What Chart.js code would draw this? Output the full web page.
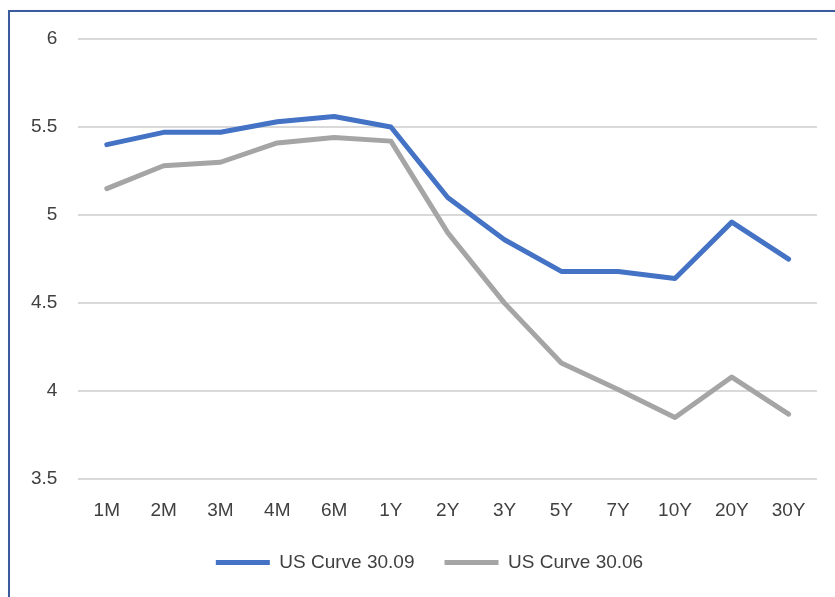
<!DOCTYPE html>
<html>
<head>
<meta charset="utf-8">
<script src="https://cdn.jsdelivr.net/npm/chart.js@4/dist/chart.umd.min.js"></script>
<style>
  html, body { margin: 0; padding: 0; background: #ffffff; overflow: hidden; }
  #frame { position: absolute; left: 8px; top: 10px; width: 900px; height: 700px;
           border: 2px solid #3A5C9C; box-shadow: 1px 1px 2px #c8c8c8; }
  #wrap { position: absolute; left: 0; top: 0; width: 835px; height: 597px; }
</style>
</head>
<body>
<div id="frame"></div>
<div id="wrap"><canvas id="c" width="835" height="597"></canvas></div>
<script>
const categories = ["1M","2M","3M","4M","6M","1Y","2Y","3Y","5Y","7Y","10Y","20Y","30Y"];
const curveSep = [5.40, 5.47, 5.47, 5.53, 5.56, 5.50, 5.10, 4.86, 4.68, 4.68, 4.64, 4.96, 4.75];
const curveJun = [5.15, 5.28, 5.30, 5.41, 5.44, 5.42, 4.90, 4.50, 4.16, 4.01, 3.85, 4.08, 3.87];
const seriesNames = ["US Curve 30.09", "US Curve 30.06"];
const yTicks = [3.5, 4, 4.5, 5, 5.5, 6];

const FONT = "'Liberation Sans', Arial, sans-serif";
const TEXT = "#404040";

const legendShift = {
  id: 'legendShift',
  afterLayout(chart) {
    const lg = chart.legend;
    if (!lg) return;
    lg.top -= 19; lg.bottom -= 19;
    lg.left += 16; lg.right += 16;
  }
};

new Chart(document.getElementById('c'), {
  type: 'line',
  data: {
    labels: categories,
    datasets: [
      { label: seriesNames[0], data: curveSep, borderColor: '#4472C4', backgroundColor: '#4472C4',
        borderWidth: 5, pointRadius: 0, borderCapStyle: 'round', borderJoinStyle: 'round', tension: 0 },
      { label: seriesNames[1], data: curveJun, borderColor: '#A5A5A5', backgroundColor: '#A5A5A5',
        borderWidth: 5, pointRadius: 0, borderCapStyle: 'round', borderJoinStyle: 'round', tension: 0 }
    ]
  },
  plugins: [legendShift],
  options: {
    responsive: false,
    animation: false,
    layout: { padding: { left: 10, right: 18, top: 39, bottom: 0 } },
    plugins: {
      tooltip: { enabled: false },
      legend: {
        position: 'bottom',
        maxHeight: 55,
        labels: {
          font: { family: FONT, size: 19 },
          color: TEXT,
          usePointStyle: true,
          pointStyle: 'line',
          pointStyleWidth: 54,
          padding: 30
        }
      }
    },
    scales: {
      x: {
        offset: true,
        grid: { display: false, drawTicks: false },
        border: { display: false },
        ticks: { font: { family: FONT, size: 19 }, color: TEXT, padding: 20, maxRotation: 0, autoSkip: false }
      },
      y: {
        min: yTicks[0],
        max: yTicks[yTicks.length - 1],
        afterBuildTicks: (axis) => { axis.ticks = yTicks.map(v => ({ value: v })); },
        grid: { color: '#D9D9D9', lineWidth: 2, drawTicks: false },
        border: { display: false },
        ticks: { font: { family: FONT, size: 19 }, color: TEXT, padding: 21,
                 callback: (v) => String(v) }
      }
    }
  }
});
</script>
</body>
</html>
